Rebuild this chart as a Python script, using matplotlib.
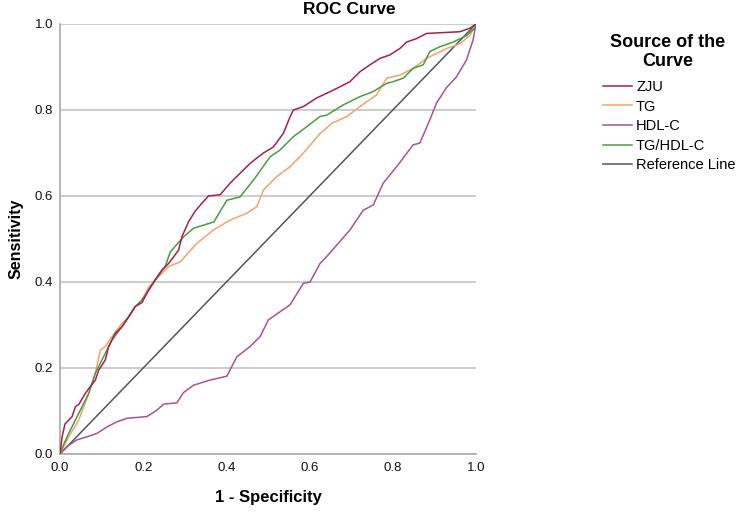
import matplotlib
matplotlib.use('Agg')
import matplotlib.pyplot as plt
import numpy as np

plt.rcParams['font.family'] = ['Liberation Sans', 'DejaVu Sans']

# ROC points (1 - specificity, sensitivity)
zju_fpr = [0, 0.005, 0.012, 0.021, 0.029, 0.037, 0.045, 0.061, 0.069, 0.085, 0.093, 0.109, 0.117, 0.133, 0.149,
           0.165, 0.181, 0.197, 0.213, 0.229, 0.245, 0.261, 0.285, 0.293, 0.309, 0.325, 0.341, 0.357, 0.385, 0.409,
           0.433, 0.457, 0.489, 0.513, 0.537, 0.553, 0.561, 0.585, 0.617, 0.65, 0.673, 0.697, 0.721, 0.745, 0.769,
           0.793, 0.817, 0.833, 0.857, 0.881, 0.961, 0.985, 1.0]
zju_tpr = [0, 0.04, 0.07, 0.079, 0.087, 0.11, 0.115, 0.141, 0.152, 0.172, 0.195, 0.219, 0.25, 0.281, 0.296,
           0.319, 0.343, 0.352, 0.381, 0.405, 0.428, 0.443, 0.474, 0.505, 0.54, 0.565, 0.583, 0.6, 0.603, 0.63,
           0.653, 0.676, 0.7, 0.714, 0.746, 0.784, 0.8, 0.808, 0.828, 0.843, 0.854, 0.866, 0.889, 0.905, 0.92,
           0.928, 0.943, 0.958, 0.966, 0.978, 0.982, 0.99, 1.0]

tg_fpr = [0, 0.01, 0.021, 0.045, 0.069, 0.085, 0.097, 0.109, 0.125, 0.149, 0.165, 0.181, 0.197, 0.213, 0.229,
          0.245, 0.261, 0.289, 0.329, 0.369, 0.409, 0.449, 0.473, 0.489, 0.521, 0.553, 0.585, 0.625, 0.655, 0.69,
          0.721, 0.761, 0.785, 0.817, 0.849, 0.881, 0.929, 0.961, 0.985, 1.0]
tg_tpr = [0, 0.02, 0.04, 0.079, 0.141, 0.188, 0.242, 0.25, 0.273, 0.304, 0.319, 0.343, 0.358, 0.388, 0.405,
          0.42, 0.436, 0.447, 0.49, 0.521, 0.544, 0.56, 0.575, 0.614, 0.645, 0.668, 0.7, 0.745, 0.77, 0.785,
          0.808, 0.835, 0.874, 0.881, 0.897, 0.92, 0.943, 0.954, 0.973, 1.0]

hdl_fpr = [0, 0.016, 0.041, 0.065, 0.089, 0.113, 0.137, 0.161, 0.209, 0.233, 0.249, 0.281, 0.297, 0.321, 0.361,
           0.401, 0.425, 0.457, 0.481, 0.501, 0.553, 0.585, 0.601, 0.625, 0.641, 0.697, 0.729, 0.753, 0.777, 0.809,
           0.849, 0.865, 0.889, 0.905, 0.929, 0.953, 0.977, 0.993, 1.0]
hdl_tpr = [0, 0.017, 0.033, 0.04, 0.048, 0.063, 0.075, 0.083, 0.087, 0.102, 0.116, 0.119, 0.143, 0.16, 0.172,
           0.181, 0.226, 0.25, 0.273, 0.312, 0.347, 0.397, 0.4, 0.443, 0.459, 0.521, 0.567, 0.579, 0.63, 0.668,
           0.719, 0.723, 0.777, 0.816, 0.852, 0.877, 0.916, 0.963, 1.0]

ratio_fpr = [0, 0.01, 0.021, 0.037, 0.053, 0.069, 0.085, 0.101, 0.125, 0.149, 0.165, 0.181, 0.197, 0.213, 0.229,
             0.253, 0.265, 0.297, 0.321, 0.361, 0.37, 0.401, 0.433, 0.465, 0.505, 0.529, 0.561, 0.593, 0.625, 0.641,
             0.681, 0.721, 0.753, 0.785, 0.801, 0.825, 0.849, 0.873, 0.889, 0.913, 0.945, 0.977, 0.997, 1.0]
ratio_tpr = [0, 0.025, 0.048, 0.079, 0.11, 0.141, 0.188, 0.219, 0.265, 0.296, 0.319, 0.343, 0.358, 0.381, 0.405,
             0.436, 0.47, 0.505, 0.525, 0.537, 0.54, 0.59, 0.598, 0.637, 0.691, 0.707, 0.738, 0.761, 0.785, 0.788,
             0.812, 0.831, 0.843, 0.862, 0.866, 0.874, 0.897, 0.905, 0.936, 0.947, 0.958, 0.973, 0.99, 1.0]

ref_line = [0, 1]

labels = ['ZJU', 'TG', 'HDL-C', 'TG/HDL-C', 'Reference Line']
colors = ['#A3214E', '#EFA36E', '#A5558F', '#4B9B45', '#555555']
ticks = [0.0, 0.2, 0.4, 0.6, 0.8, 1.0]

fig = plt.figure(figsize=(7.36, 5.17), dpi=100)
ax = fig.add_axes([60 / 736, 63 / 517, 416 / 736, 430 / 517])

ax.plot(zju_fpr, zju_tpr, color=colors[0], lw=1.1, label=labels[0], zorder=6)
ax.plot(tg_fpr, tg_tpr, color=colors[1], lw=1.1, label=labels[1], zorder=4)
ax.plot(hdl_fpr, hdl_tpr, color=colors[2], lw=1.1, label=labels[2], zorder=3)
ax.plot(ratio_fpr, ratio_tpr, color=colors[3], lw=1.1, label=labels[3], zorder=5)
ax.plot(ref_line, ref_line, color=colors[4], lw=1.1, label=labels[4], zorder=2)

ax.set_xlim(0, 1)
ax.set_ylim(0, 1)
ax.set_xticks(ticks)
ax.set_yticks(ticks)
ax.set_xticklabels([f'{t:.1f}' for t in ticks])
ax.set_yticklabels([f'{t:.1f}' for t in ticks])
ax.tick_params(axis='both', length=0, labelsize=9.5, colors='#111111')
ax.tick_params(axis='x', pad=6)
ax.tick_params(axis='y', pad=5)

ax.yaxis.grid(True, color='#c8c8c8', lw=1.3, zorder=0)
ax.set_axisbelow(True)
for side in ['top', 'right']:
    ax.spines[side].set_visible(False)
for side in ['left', 'bottom']:
    ax.spines[side].set_color('#b0b0b0')
    ax.spines[side].set_linewidth(1.3)

ax.set_xlabel('1 - Specificity', fontsize=12, fontweight='bold', labelpad=11)
ax.set_ylabel('Sensitivity', fontsize=11.5, fontweight='bold', labelpad=8)
fig.text(349 / 736, 1 - 10 / 517, 'ROC Curve', fontsize=12.5, fontweight='bold', ha='center', va='center')

# legend title drawn on its own so the gap to the entries matches
fig.text(668 / 736, 1 - 52 / 517, 'Source of the\nCurve', fontsize=13, fontweight='bold',
         ha='center', va='center', multialignment='center')
leg = ax.legend(loc='upper left', bbox_to_anchor=(603 / 736, 1 - 80 / 517), bbox_transform=fig.transFigure,
                frameon=False, fontsize=10.5, handlelength=2.0, handletextpad=0.27,
                labelspacing=0.38, borderpad=0, borderaxespad=0)

fig.savefig('out.png', dpi=100)
